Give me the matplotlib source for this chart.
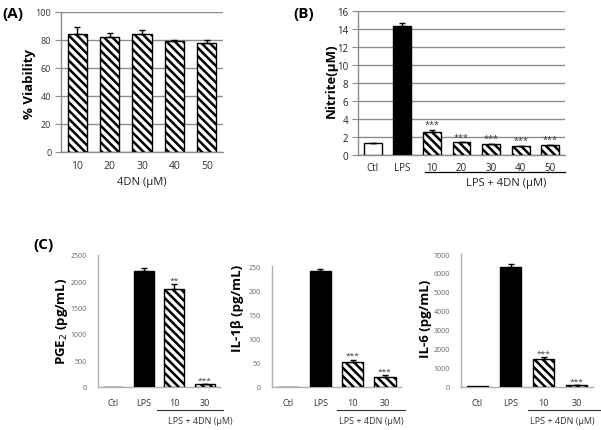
import matplotlib
matplotlib.use("Agg")
import matplotlib.pyplot as plt
import numpy as np

plt.rcParams['font.family'] = ['Open Sans', 'DejaVu Sans']
plt.rcParams['hatch.linewidth'] = 1.8
plt.rcParams['hatch.color'] = 'black'

W, H = 601, 431

# Panel A
a_labels = ['10', '20', '30', '40', '50']
a_vals = [84, 82, 84, 79, 78]
a_err = [5, 3, 3, 1, 2]

# Panel B
b_labels = ['Ctl', 'LPS', '10', '20', '30', '40', '50']
b_vals = [1.3, 14.3, 2.6, 1.4, 1.2, 1.0, 1.1]
b_err = [0.05, 0.4, 0.2, 0.05, 0.05, 0.05, 0.05]
b_stars = ['', '', '***', '***', '***', '***', '***']

# Panel C
c_labels = ['Ctl', 'LPS', '10', '30']
pge2_vals = [0, 2200, 1850, 40]
pge2_err = [0, 60, 100, 10]
pge2_stars = ['', '', '**', '***']
il1b_vals = [0, 240, 50, 20]
il1b_err = [0, 4, 6, 4]
il1b_stars = ['', '', '***', '***']
il6_vals = [20, 6300, 1450, 60]
il6_err = [0, 150, 100, 10]
il6_stars = ['', '', '***', '***']

fig = plt.figure(figsize=(W / 100, H / 100), dpi=100)

def px_axes(l, r, t, b):
    return fig.add_axes([l / W, 1 - b / H, (r - l) / W, (b - t) / H])

def ftext(x, y, s, **kw):
    fig.text(x / W, 1 - y / H, s, **kw)

GREY = '#8c8c8c'
HATCH = '\\' * 4

def style(ax, grid, ticksize, tickcolor):
    for s in ['top', 'right']:
        ax.spines[s].set_visible(False)
    for s in ['left', 'bottom']:
        ax.spines[s].set_color(GREY)
        ax.spines[s].set_linewidth(1.0)
    ax.tick_params(axis='y', length=4 if grid else 3, color=GREY, labelsize=ticksize,
                   labelcolor=tickcolor, pad=3, direction='out')
    ax.tick_params(axis='x', length=0, labelsize=ticksize + 1, labelcolor=tickcolor, pad=6)
    if grid:
        ax.yaxis.grid(True, color=GREY, linewidth=1.0)
        ax.set_axisbelow(True)

def bars(ax, vals, errs, kinds, width, stars=None, starsize=6, staroff=0.0):
    for i, (v, e, k) in enumerate(zip(vals, errs, kinds)):
        if k == 'white':
            ax.bar(i, v, width, color='white', edgecolor='black', linewidth=1.0, zorder=3)
        elif k == 'black':
            ax.bar(i, v, width, color='black', edgecolor='black', linewidth=1.0, zorder=3)
        else:
            ax.bar(i, v, width, color='white', edgecolor='black', hatch=HATCH,
                   linewidth=1.0, zorder=3)
        if e > 0:
            ax.errorbar(i, v, yerr=[[0], [e]], fmt='none', ecolor='black',
                        elinewidth=1.0, capsize=2.5, capthick=1.0, zorder=4)
        if stars and stars[i]:
            ax.text(i, v + e + staroff, stars[i], ha='center', va='bottom',
                    fontsize=starsize, color='#333333', zorder=5)

# ---------- Panel A ----------
axA = px_axes(61, 223, 12.7, 153)
bars(axA, a_vals, a_err, ['hatch'] * 5, 0.59)
axA.set_xlim(-0.5, 4.5)
axA.set_ylim(0, 100)
axA.set_yticks(np.arange(0, 101, 20))
axA.set_xticks(range(5))
axA.set_xticklabels(a_labels)
style(axA, True, 6.5, '#333333')
ftext(2, 14, '(A)', fontsize=11, fontweight='bold', va='center', ha='left')
ftext(30, 84, '% Viability', fontsize=9.5, fontweight='bold', rotation=90, ha='center', va='center')
ftext(142, 183, '4DN (μM)', fontsize=8, ha='center', va='center', color='#222222')

# ---------- Panel B ----------
axB = px_axes(358, 565, 12, 156)
bars(axB, b_vals, b_err, ['white', 'black'] + ['hatch'] * 5, 0.6, b_stars, starsize=6.5, staroff=0.05)
axB.set_xlim(-0.5, 6.5)
axB.set_ylim(0, 16)
axB.set_yticks(np.arange(0, 17, 2))
axB.set_xticks(range(7))
axB.set_xticklabels(b_labels)
style(axB, True, 7, '#222222')
axB.tick_params(axis='x', labelsize=7, pad=5)
ftext(293, 14, '(B)', fontsize=11, fontweight='bold', va='center', ha='left')
ftext(331, 81, 'Nitrite(μM)', fontsize=9.5, fontweight='bold', rotation=90, ha='center', va='center')
fig.add_artist(plt.Line2D([425 / W, 565 / W], [1 - 173 / H, 1 - 173 / H], color='black', linewidth=0.9))
ftext(506, 184, 'LPS + 4DN (μM)', fontsize=8, ha='center', va='center', color='#222222')

# ---------- Panel C ----------
ftext(33, 245, '(C)', fontsize=11, fontweight='bold', va='center', ha='left')

def cpanel(l, r, t, b, vals, errs, stars, ymax, step, ylabel, ylx, yly, ulx0, ulx1, txc, staroff):
    ax = px_axes(l, r, t, b)
    bars(ax, vals, errs, ['white', 'black', 'hatch', 'hatch'], 0.66, stars, starsize=6, staroff=staroff)
    ax.set_xlim(-0.5, 3.5)
    ax.set_ylim(0, ymax)
    ax.set_yticks(np.arange(0, ymax + 1, step))
    ax.set_xticks(range(4))
    ax.set_xticklabels(c_labels)
    style(ax, False, 5, '#666666')
    ax.tick_params(axis='y', length=0, pad=8)
    ax.tick_params(axis='x', labelsize=6.5, labelcolor='#333333', pad=8)
    ax.spines['left'].set_color('#b0b0b0')
    ax.spines['bottom'].set_color('#b0b0b0')
    ftext(ylx, yly, ylabel, fontsize=9.5, fontweight='bold', rotation=90, ha='center', va='center')
    fig.add_artist(plt.Line2D([ulx0 / W, ulx1 / W], [1 - 411 / H, 1 - 411 / H], color='#333333', linewidth=0.8))
    ftext(txc, 422, 'LPS + 4DN (μM)', fontsize=6.5, ha='center', va='center', color='#333333')
    return ax

cpanel(98, 220, 256, 387.5, pge2_vals, pge2_err, pge2_stars, 2500, 500,
       'PGE$_2$ (pg/mL)', 62, 321, 157, 223, 200, 10)
cpanel(272, 401, 267, 387.5, il1b_vals, il1b_err, il1b_stars, 250, 50,
       'IL-1β (pg/mL)', 238, 308, 337, 405, 371, 1)
cpanel(461, 593, 255, 387.5, il6_vals, il6_err, il6_stars, 7000, 1000,
       'IL-6 (pg/mL)', 426, 319, 528, 600, 562, 30)

fig.savefig('out.png', dpi=100)
